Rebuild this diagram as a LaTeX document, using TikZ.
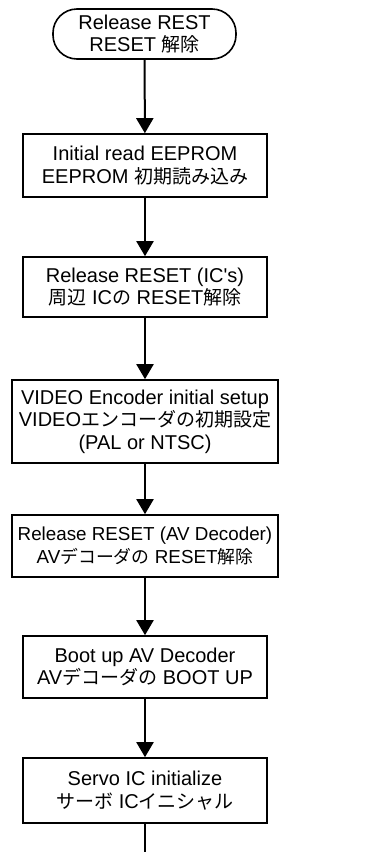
\documentclass[tikz,border=0pt]{standalone}
\usepackage{fontspec}
\setmainfont{Liberation Sans}
\newfontfamily\jp[Scale=0.95]{Noto Sans CJK JP}
\usepackage{tikz}
\usetikzlibrary{arrows.meta, positioning}
\usepackage{xcolor}

\begin{document}
\begin{tikzpicture}[x=1pt, y=-1pt,
    procbox/.style={draw, line width=1.6pt, rectangle, align=center,
      inner sep=0pt, font=\fontsize{20}{22.5}\selectfont},
    term/.style={procbox, rounded corners=24pt},
    flow/.style={line width=2pt, -{Triangle[length=15pt, width=17pt]}}]
      % Page frame
      \useasboundingbox (0,0) rectangle (384,852);
      % Start terminal
      \node[term, minimum width=183pt, minimum height=50pt] (start) at (144.5, 34)
        {Release REST\\RESET {\jp 解除}};
      % Process steps
      \node[procbox, minimum width=244pt, minimum height=63pt] (eeprom) at (145, 165.5)
        {Initial read EEPROM\\EEPROM {\jp 初期読み込み}};
      \node[procbox, minimum width=244pt, minimum height=60pt] (icreset) at (145, 287)
        {Release RESET (IC\textquotesingle s)\\{\jp 周辺} IC{\jp の} RESET{\jp 解除}};
      \node[procbox, minimum width=266pt, minimum height=83pt] (venc) at (145, 421.5)
        {VIDEO Encoder initial setup\\VIDEO{\jp エンコーダの初期設定}\\(PAL or NTSC)};
      \node[procbox, minimum width=266pt, minimum height=62pt,
        font=\fontsize{18.8}{22.5}\selectfont] (avreset) at (145, 546)
        {Release RESET (AV Decoder)\\AV{\jp デコーダの} RESET{\jp 解除}};
      \node[procbox, minimum width=244pt, minimum height=62pt] (avboot) at (145, 667)
        {Boot up AV Decoder\\AV{\jp デコーダの} BOOT UP};
      \node[procbox, minimum width=244pt, minimum height=65pt] (servo) at (145, 790.5)
        {Servo IC initialize\\{\jp サーボ} IC{\jp イニシャル}};
      % Connectors
      \draw[flow] (start) -- (eeprom);
      \draw[flow] (eeprom) -- (icreset);
      \draw[flow] (icreset) -- (venc);
      \draw[flow] (venc) -- (avreset);
      \draw[flow] (avreset) -- (avboot);
      \draw[flow] (avboot) -- (servo);
      % Continues on the next page
      \coordinate (next) at (145, 852);
      \draw[line width=2pt] (servo) -- (next);
    \end{tikzpicture}
\end{document}
